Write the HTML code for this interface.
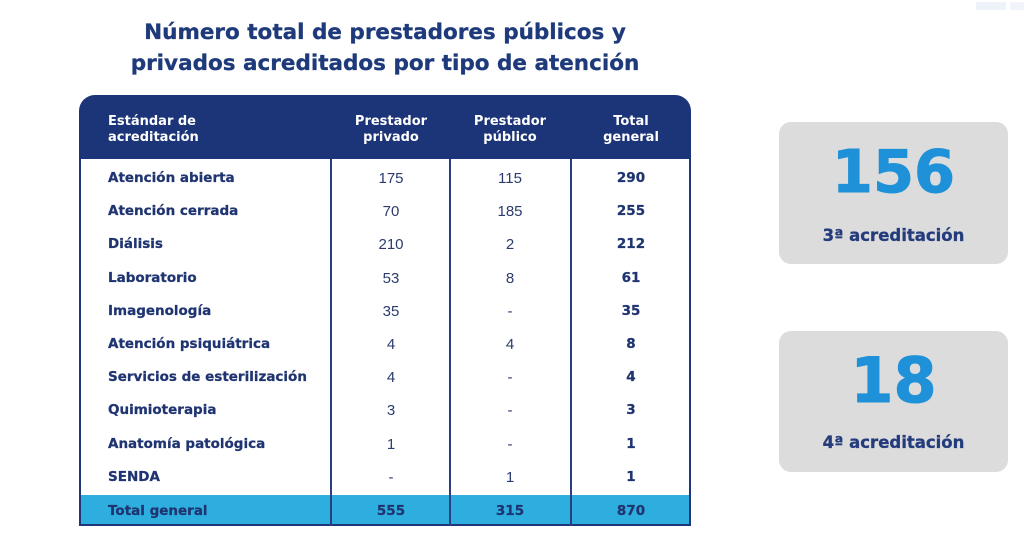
<!DOCTYPE html>
<html>
<head>
<meta charset="utf-8">
<style>
*{margin:0;padding:0;box-sizing:border-box;}
html,body{width:1024px;height:540px;background:#ffffff;overflow:hidden;position:relative;}
.t{position:absolute;left:0;top:17px;width:770px;text-align:center;font-family:"DejaVu Sans","Liberation Sans",sans-serif;font-weight:bold;font-size:21.5px;line-height:31px;color:#1e3a7b;-webkit-text-stroke:0.3px #1e3a7b;}
#tbl{position:absolute;left:79px;top:95px;width:612px;height:431px;}
.hdr{position:absolute;left:0;top:0;width:612px;height:65px;background:#1c3578;border-radius:16px 16px 0 0;}
.body{position:absolute;left:0;top:64px;width:612px;height:336px;border-left:2px solid #1f3677;border-right:2px solid #1f3677;background:#fff;}
.tot{position:absolute;left:0;top:400px;width:612px;height:31px;background:#2eaede;border-left:2px solid #1f3677;border-right:2px solid #1f3677;border-bottom:2px solid #1f3677;}
.vl{position:absolute;top:64px;width:2px;height:367px;background:#2a3f7e;}
.hc{position:absolute;top:19px;font-family:"DejaVu Sans","Liberation Sans",sans-serif;font-weight:bold;font-size:13px;line-height:16px;color:#fff;}
.hc.c{width:120px;text-align:center;}
.row{position:absolute;left:0;width:612px;height:33.2px;}
.lab{position:absolute;left:27px;top:0;font-family:"DejaVu Sans","Liberation Sans",sans-serif;font-weight:bold;font-size:13.5px;line-height:33.2px;color:#1f3471;white-space:nowrap;-webkit-text-stroke:0.25px #1f3471;}
.n{position:absolute;top:0;width:120px;text-align:center;font-family:"Liberation Sans",sans-serif;font-size:15px;line-height:33.2px;color:#2b3b6e;}
.b{font-family:"DejaVu Sans","Liberation Sans",sans-serif;font-weight:bold;font-size:13.5px;color:#1f3471;-webkit-text-stroke:0.25px #1f3471;}
.box{position:absolute;left:779px;width:229px;background:#dcdcdc;border-radius:12px;}
.big{position:absolute;left:0;width:229px;text-align:center;font-family:"DejaVu Sans","Liberation Sans",sans-serif;font-weight:bold;color:#1f91d8;line-height:1;-webkit-text-stroke:1px #1f91d8;}
.sub{position:absolute;left:0;width:229px;text-align:center;font-family:"DejaVu Sans","Liberation Sans",sans-serif;font-weight:bold;font-size:16.5px;line-height:20px;color:#243c7c;-webkit-text-stroke:0.3px #243c7c;}
</style>
</head>
<body>
<div class="t">Número total de prestadores públicos y<br>privados acreditados por tipo de atención</div>

<div id="tbl">
  <div class="hdr">
    <div class="hc" style="left:29px;">Estándar de<br>acreditación</div>
    <div class="hc c" style="left:252px;">Prestador<br>privado</div>
    <div class="hc c" style="left:371px;">Prestador<br>público</div>
    <div class="hc c" style="left:492px;">Total<br>general</div>
  </div>
  <div class="body">
    <div class="row" style="top:3px;"><div class="lab">Atención abierta</div><div class="n" style="left:250px;">175</div><div class="n" style="left:369px;">115</div><div class="n b" style="left:490px;">290</div></div>
    <div class="row" style="top:36.2px;"><div class="lab">Atención cerrada</div><div class="n" style="left:250px;">70</div><div class="n" style="left:369px;">185</div><div class="n b" style="left:490px;">255</div></div>
    <div class="row" style="top:69.4px;"><div class="lab">Diálisis</div><div class="n" style="left:250px;">210</div><div class="n" style="left:369px;">2</div><div class="n b" style="left:490px;">212</div></div>
    <div class="row" style="top:102.6px;"><div class="lab">Laboratorio</div><div class="n" style="left:250px;">53</div><div class="n" style="left:369px;">8</div><div class="n b" style="left:490px;">61</div></div>
    <div class="row" style="top:135.8px;"><div class="lab">Imagenología</div><div class="n" style="left:250px;">35</div><div class="n" style="left:369px;">-</div><div class="n b" style="left:490px;">35</div></div>
    <div class="row" style="top:169px;"><div class="lab">Atención psiquiátrica</div><div class="n" style="left:250px;">4</div><div class="n" style="left:369px;">4</div><div class="n b" style="left:490px;">8</div></div>
    <div class="row" style="top:202.2px;"><div class="lab">Servicios de esterilización</div><div class="n" style="left:250px;">4</div><div class="n" style="left:369px;">-</div><div class="n b" style="left:490px;">4</div></div>
    <div class="row" style="top:235.4px;"><div class="lab">Quimioterapia</div><div class="n" style="left:250px;">3</div><div class="n" style="left:369px;">-</div><div class="n b" style="left:490px;">3</div></div>
    <div class="row" style="top:268.6px;"><div class="lab">Anatomía patológica</div><div class="n" style="left:250px;">1</div><div class="n" style="left:369px;">-</div><div class="n b" style="left:490px;">1</div></div>
    <div class="row" style="top:301.8px;"><div class="lab">SENDA</div><div class="n" style="left:250px;">-</div><div class="n" style="left:369px;">1</div><div class="n b" style="left:490px;">1</div></div>
  </div>
  <div class="tot">
    <div class="row" style="top:1px;height:30px;"><div class="lab" style="line-height:30px;">Total general</div><div class="n b" style="left:250px;line-height:30px;">555</div><div class="n b" style="left:369px;line-height:30px;">315</div><div class="n b" style="left:490px;line-height:30px;">870</div></div>
  </div>
  <div class="vl" style="left:251px;"></div>
  <div class="vl" style="left:370px;"></div>
  <div class="vl" style="left:491px;"></div>
</div>

<div class="box" style="top:122px;height:142px;">
  <div class="big" style="top:20px;font-size:59px;">156</div>
  <div class="sub" style="top:104px;">3ª acreditación</div>
</div>
<div class="box" style="top:331px;height:141px;">
  <div class="big" style="top:19px;font-size:62px;">18</div>
  <div class="sub" style="top:102px;">4ª acreditación</div>
</div>

<div style="position:absolute;left:976px;top:0;width:48px;height:12px;">
  <div style="position:absolute;left:0;top:2px;width:30px;height:8px;background:#eef3fa;"></div>
  <div style="position:absolute;left:34px;top:2px;width:14px;height:8px;background:#f1f5fb;"></div>
</div>
</body>
</html>
